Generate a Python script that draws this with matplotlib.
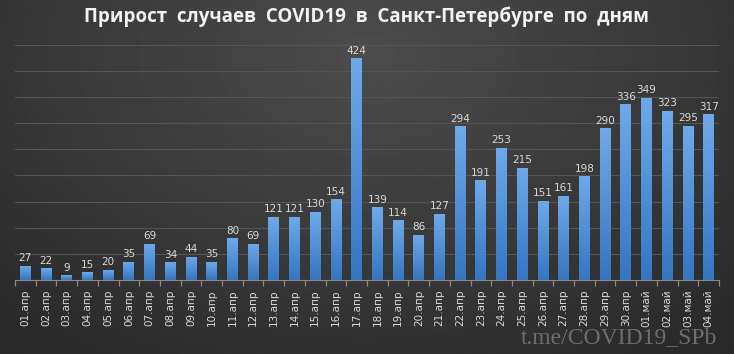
import matplotlib.pyplot as plt
import numpy as np
from matplotlib.colors import LinearSegmentedColormap

days = ['%02d.апр' % d for d in range(1, 31)] + ['%02d.май' % d for d in range(1, 5)]
cases = [27, 22, 9, 15, 20, 35, 69, 34, 44, 35, 80, 69, 121, 121, 130, 154, 424,
         139, 114, 86, 127, 294, 191, 253, 215, 151, 161, 198, 290, 336, 349, 323, 295, 317]

fig = plt.figure(figsize=(7.34, 3.54), dpi=100)

# dark gradient background
bg = fig.add_axes([0, 0, 1, 1], zorder=-10)
yy, xx = np.mgrid[0:1:200j, 0:1:400j]
shade = 0.30 - 0.13 * np.sqrt(((xx - 0.5) / 0.7) ** 2 + ((yy - 0.15) / 1.0) ** 2)
bg.imshow(shade, cmap='gray', vmin=0, vmax=1, aspect='auto', extent=[0, 1, 0, 1])
bg.axis('off')

ax = fig.add_axes([15 / 734, 74 / 354, 704 / 734, 235.3 / 354])
ax.set_facecolor('none')

x = np.arange(len(cases))
bars = ax.bar(x, cases, width=0.52, color='none', zorder=3)

grad = np.linspace(0, 1, 100).reshape(-1, 1)
cmap = LinearSegmentedColormap.from_list('b', ['#3576c2', '#6eaaea'])
for b in bars:
    x0, y0, w, h = b.get_x(), b.get_y(), b.get_width(), b.get_height()
    im = ax.imshow(grad, cmap=cmap, aspect='auto', origin='lower',
                   extent=[x0, x0 + w, y0, y0 + h], zorder=3)
    im.set_clip_path(b)
    ax.text(x0 + w / 2, h + 5, str(int(h)), ha='center', va='bottom',
            color='#d9d9d9', fontsize=7.5, zorder=4)

ax.set_xlim(-0.5, len(cases) - 0.5)
ax.set_ylim(0, 450)
ax.set_yticks(np.arange(50, 451, 50))
ax.yaxis.grid(True, color='#555555', linewidth=0.8, zorder=0)
ax.tick_params(axis='y', length=0, labelleft=False)

ax.set_xticks(x)
ax.set_xticklabels(days, rotation=90, color='#d9d9d9', fontsize=7.5)
ax.set_xticks(np.arange(-0.5, len(cases), 1), minor=True)
ax.tick_params(axis='x', which='major', length=0, pad=7)
ax.tick_params(axis='x', which='minor', length=4, color='#8a8a8a', width=0.9)

for s in ['top', 'right', 'left']:
    ax.spines[s].set_visible(False)
ax.spines['bottom'].set_color('#8a8a8a')

fig.text(0.5, 1 - 17 / 354, 'Прирост  случаев  COVID19  в  Санкт-Петербурге  по  дням',
         ha='center', va='center', color='#f2f2f2', fontsize=13.5, fontweight='bold',
         family='Open Sans')
fig.text(717 / 734, 6 / 354, 't.me/COVID19_SPb', ha='right', va='bottom',
         color='#6e6e6e', fontsize=17, family='Liberation Serif')

fig.savefig('out.png', dpi=100)
